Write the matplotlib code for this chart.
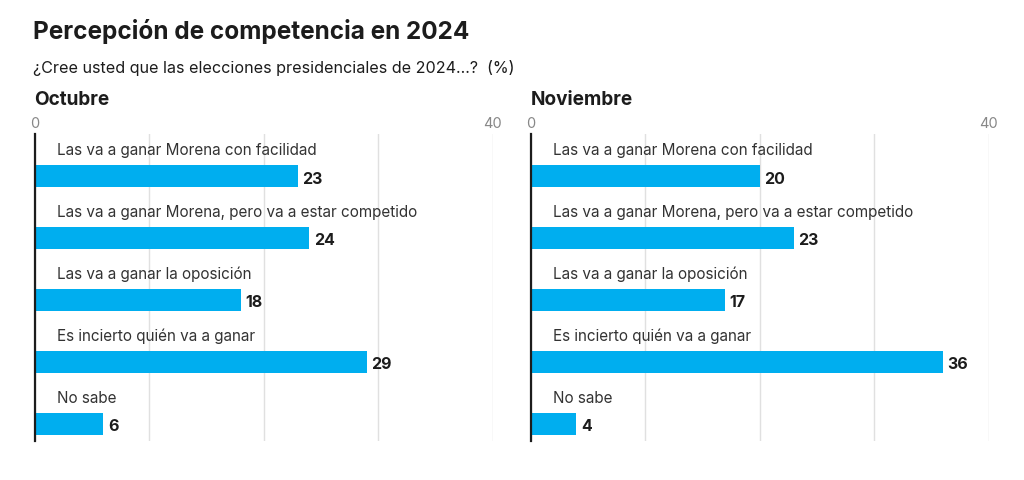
import numpy as np
import matplotlib.pyplot as plt

# datos de la encuesta
categorias = ["Las va a ganar Morena con facilidad",
              "Las va a ganar Morena, pero va a estar competido",
              "Las va a ganar la oposición",
              "Es incierto quién va a ganar",
              "No sabe"]
octubre = [23, 24, 18, 29, 6]
noviembre = [20, 23, 17, 36, 4]
paneles = ["Octubre", "Noviembre"]
ticks = [0, 10, 20, 30, 40]
tick_labels = ["0", "", "", "", "40"]

plt.rcParams['font.family'] = ['Inter', 'DejaVu Sans']
azul = "#00AEEF"
oscuro = "#1c1c1c"

fig = plt.figure(figsize=(10.24, 4.81), dpi=100)

fig.text(33 / 1024, 1 - 32 / 481, "Percepción de competencia en 2024",
         fontsize=17.5, fontweight="bold", color=oscuro, va="center")
fig.text(33 / 1024, 1 - 68 / 481,
         "¿Cree usted que las elecciones presidenciales de 2024...?  (%)",
         fontsize=11.6, color=oscuro, va="center")

y = np.arange(len(categorias))
for i, (nombre, valores) in enumerate(zip(paneles, [octubre, noviembre])):
    left = (34.5 if i == 0 else 530.5) / 1024
    ax = fig.add_axes([left, 0.081, 458 / 1024, 0.638])
    ax.barh(y, valores, height=0.35, color=azul, zorder=2)
    for yi, v, cat in zip(y, valores, categorias):
        ax.text(v + 0.4, yi + 0.03, str(v), va="center", ha="left",
                fontsize=11.5, fontweight="bold", color=oscuro)
        ax.text(1.95, yi - 0.43, cat, va="center", ha="left",
                fontsize=11, color="#333333")
    ax.set_xlim(0, 40)
    ax.set_ylim(4.28, -0.68)
    ax.set_xticks(ticks)
    ax.set_xticklabels(tick_labels)
    ax.xaxis.tick_top()
    ax.tick_params(axis="x", length=0, pad=3, labelsize=10.5,
                   labelcolor="#888888")
    ax.set_yticks([])
    ax.grid(axis="x", color="#e0e0e0", linewidth=1, zorder=0)
    for s in ["top", "right", "bottom"]:
        ax.spines[s].set_visible(False)
    ax.spines["left"].set_color(oscuro)
    ax.spines["left"].set_linewidth(1.6)
    ax.spines["left"].set_zorder(3)
    fig.text(left, 1 - 100 / 481, nombre, fontsize=13.7, fontweight="bold",
             color=oscuro, va="center")

fig.savefig("out.png", dpi=100, facecolor="white")
